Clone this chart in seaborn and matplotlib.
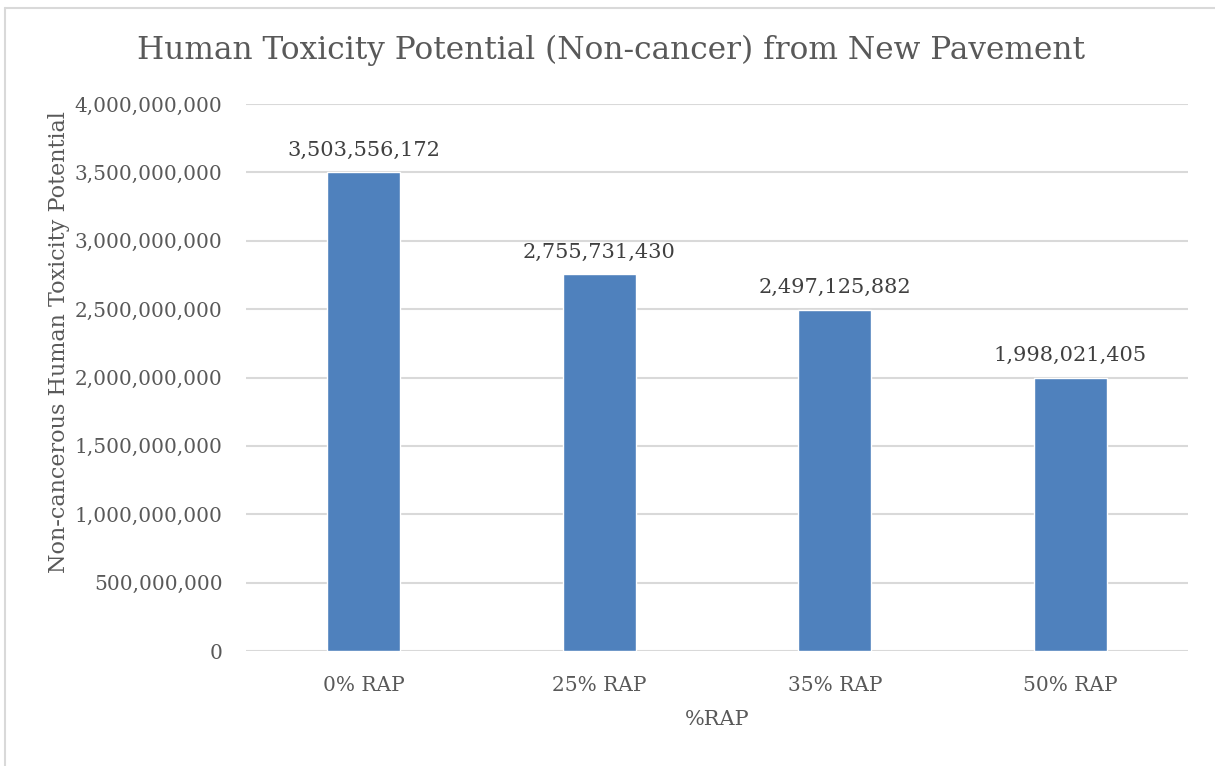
import matplotlib
matplotlib.use("Agg")
import matplotlib.pyplot as plt
import seaborn as sns
import pandas as pd
from matplotlib.lines import Line2D
from matplotlib.ticker import FuncFormatter, MultipleLocator

categories = ["0% RAP", "25% RAP", "35% RAP", "50% RAP"]
values = [3503556172, 2755731430, 2497125882, 1998021405]

sns.set_theme(style="white")
plt.rcParams["font.family"] = ["DejaVu Serif"]
text_color = "#595959"
bar_color = "#4F81BD"
grid_color = "#D9D9D9"

df = pd.DataFrame({"RAP": categories, "HTP": values})

fig = plt.figure(figsize=(12.15, 7.66), dpi=100)
ax = fig.add_axes([0.2025, 0.1501, 0.7753, 0.7141])

sns.barplot(data=df, x="RAP", y="HTP", color=bar_color, width=0.31,
            saturation=1, ax=ax, zorder=3)

ax.set_ylim(0, 4e9)
ax.yaxis.set_major_locator(MultipleLocator(5e8))
ax.yaxis.set_major_formatter(FuncFormatter(lambda v, p: f"{int(v):,}"))
ax.grid(axis="y", color=grid_color, linewidth=1.5, zorder=0)
ax.grid(axis="x", visible=False)
for s in ax.spines.values():
    s.set_visible(False)
ax.tick_params(axis="both", length=0, labelsize=14.5, colors=text_color)
ax.tick_params(axis="y", pad=17)
ax.tick_params(axis="x", pad=18)

for c in ax.containers:
    ax.bar_label(c, labels=[f"{v:,}" for v in values], padding=9,
                 fontsize=15, color="#404040")

ax.set_xlabel("%RAP", fontsize=15, color=text_color, labelpad=11)
ax.set_ylabel("Non-cancerous Human Toxicity Potential", fontsize=16,
              color=text_color)
ax.yaxis.set_label_coords(-0.187, 0.565)

fig.text(0.503, 0.934, "Human Toxicity Potential (Non-cancer) from New Pavement",
         ha="center", va="center", fontsize=22.5, color=text_color)

# chart-area frame: left and top edges
x0 = 4.5 / 1215
y0 = 1 - 7.5 / 766
fig.add_artist(Line2D([x0, x0], [0, y0], transform=fig.transFigure,
                      color="#D9D9D9", linewidth=1.5))
fig.add_artist(Line2D([x0, 1], [y0, y0], transform=fig.transFigure,
                      color="#D9D9D9", linewidth=1.5))

fig.savefig("out.png", dpi=100, facecolor="white")
